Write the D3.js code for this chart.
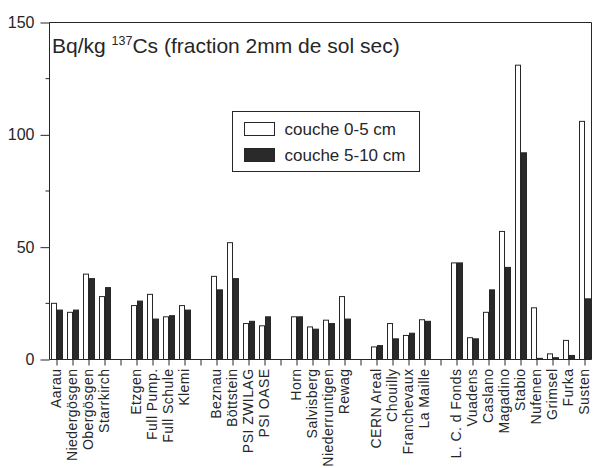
<!DOCTYPE html>
<html>
<head>
<meta charset="utf-8">
<script src="https://cdn.jsdelivr.net/npm/d3@7/dist/d3.min.js"></script>
<style>
  html, body { margin: 0; padding: 0; background: #fff; }
  svg { display: block; font-family: Arial, "Liberation Sans", Helvetica, sans-serif; }
</style>
</head>
<body>
<svg id="chart" width="593" height="468"></svg>
<script>
// sites, '' marks an empty slot between groups
const sites = [
  'Aarau', 'Niedergösgen', 'Obergösgen', 'Starrkirch', '',
  'Etzgen', 'Full Pump.', 'Full Schule', 'Klemi', '',
  'Beznau', 'Böttstein', 'PSI ZWILAG', 'PSI OASE', '',
  'Horn', 'Salvisberg', 'Niederruntigen', 'Rewag', '',
  'CERN Areal', 'Chouilly', 'Franchevaux', 'La Maille', '',
  'L. C. d Fonds', 'Vuadens', 'Caslano', 'Magadino', 'Stabio', 'Nufenen', 'Grimsel', 'Furka', 'Susten'
]
const couche0_5 = [
  25, 21, 38, 28, null,
  24, 29, 19, 24, null,
  37, 52, 16, 15, null,
  19, 14.5, 17.5, 28, null,
  5.6, 16, 10.7, 17.7, null,
  43, 9.7, 21, 57, 131, 23, 2.5, 8.5, 106
]
const couche5_10 = [
  22, 22, 36, 32, null,
  26, 18, 19.5, 22, null,
  31, 36, 17, 19, null,
  19, 13.5, 16, 18, null,
  6.2, 9.2, 11.7, 17, null,
  43, 9.2, 31, 41, 92, 0.5, 0.8, 1.8, 27
]
const seriesNames = ['couche 0-5 cm', 'couche 5-10 cm']
const seriesFill = ['#ffffff', '#2a2a2a']
const yMajor = [0, 50, 100, 150]
const yMinor = [25, 75, 125]

const svg = d3.select('#chart')
const ink = '#262626'
const margin = { top: 22, right: 1, bottom: 109, left: 49 }
const width = 593
const height = 468

const x = d3.scaleBand().domain(d3.range(sites.length)).range([margin.left, width - margin.right + 1]).padding(0)
const xs = d3.scaleBand().domain([0, 1]).range([2, x.bandwidth() - 2]).padding(0)
const y = d3.scaleLinear().domain([0, 150]).range([height - margin.bottom, margin.top])

const rows = sites.map((site, i) => ({ i, site, values: [couche0_5[i], couche5_10[i]] }))

// bars
const groups = svg.append('g').selectAll('g').data(rows.filter((r) => r.site !== '')).join('g')
  .attr('transform', (r) => `translate(${x(r.i)},0)`)
groups.selectAll('rect').data((r) => r.values.map((v, k) => ({ v, k }))).join('rect')
  .attr('x', (d) => xs(d.k) + 0.5)
  .attr('y', (d) => y(d.v) + 0.5)
  .attr('width', xs.bandwidth() - 1)
  .attr('height', (d) => Math.max(0, y(0) - y(d.v)))
  .attr('fill', (d) => seriesFill[d.k])
  .attr('stroke', ink)
  .attr('stroke-width', 1)

// frame
const x0 = margin.left + 0.5
const x1 = width - margin.right - 0.5
svg.append('path')
  .attr('d', `M${x0},${y(0) + 0.5} L${x0},${y(150) + 0.5} L${x1},${y(150) + 0.5} L${x1},${y(0) + 0.5} Z`)
  .attr('fill', 'none').attr('stroke', ink).attr('stroke-width', 1)

// y axis
const yAxis = svg.append('g').attr('transform', `translate(${x0},0.5)`)
  .call(d3.axisLeft(y).tickValues(yMajor).tickSize(9).tickPadding(6).tickFormat(d3.format('d')))
yAxis.select('.domain').remove()
yAxis.selectAll('line').attr('stroke', ink)
yAxis.selectAll('text').attr('font-size', 16).attr('fill', ink).attr('font-family', 'Arial, "Liberation Sans", sans-serif')
svg.append('g').selectAll('line').data(yMinor).join('line')
  .attr('x1', x0 - 4).attr('x2', x0)
  .attr('y1', (v) => y(v) + 0.5).attr('y2', (v) => y(v) + 0.5)
  .attr('stroke', ink)

// x axis
const xAxis = svg.append('g').attr('transform', `translate(0,${y(0) + 0.5})`)
  .call(d3.axisBottom(x).tickSize(6).tickPadding(3).tickFormat((i) => sites[i]))
xAxis.select('.domain').remove()
xAxis.selectAll('line').attr('stroke', ink)
xAxis.selectAll('text')
  .attr('font-size', 14)
  .attr('letter-spacing', 0.45)
  .attr('fill', ink)
  .attr('font-family', 'Arial, "Liberation Sans", sans-serif')
  .attr('text-anchor', 'end')
  .attr('transform', 'rotate(-90)')
  .attr('x', -9)
  .attr('y', 0)
  .attr('dy', '0.3em')

// title
const title = svg.append('text').attr('x', 52).attr('y', 53).attr('font-size', 21).attr('fill', ink)
title.append('tspan').text('Bq/kg ')
title.append('tspan').attr('font-size', 12.5).attr('dy', -8).text('137')
title.append('tspan').attr('dy', 8).text('Cs (fraction 2mm de sol sec)')

// legend
const legend = svg.append('g').attr('transform', 'translate(232.5,111.5)')
legend.append('rect').attr('width', 187).attr('height', 60).attr('fill', '#fff').attr('stroke', ink)
const items = legend.selectAll('g').data(seriesNames).join('g').attr('transform', (d, k) => `translate(12,${11 + k * 26})`)
items.append('rect').attr('width', 30).attr('height', 13).attr('fill', (d, k) => seriesFill[k]).attr('stroke', ink)
items.append('text').attr('x', 40).attr('y', 12).attr('font-size', 17).attr('fill', ink).text((d) => d)
</script>
</body>
</html>
